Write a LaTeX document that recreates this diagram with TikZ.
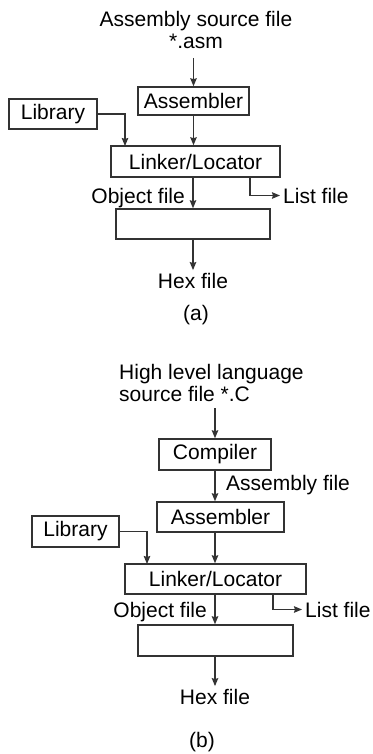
\documentclass[tikz,border=0pt]{standalone}
\usepackage{fontspec}
\setmainfont{Liberation Sans}
\usetikzlibrary{arrows,arrows.meta}

\begin{document}
\begin{tikzpicture}[
x=1pt, y=-1pt,
font=\fontsize{21}{22}\selectfont,
box/.style={draw=black!80, line width=1.5pt, inner sep=0pt},
lbl/.style={inner sep=3pt},
arrow/.style={-{Stealth[length=8pt,width=6.5pt,inset=1pt]},line width=1.3pt,draw=black!80} ]

\useasboundingbox (0,0) rectangle (372,754);

% (a)
\node[lbl, align=center, anchor=south, inner ysep=9pt](srca) at (196,58) {Assembly source file\\*.asm};

\node[box, minimum width=111pt, minimum height=28pt](asma) at (193.5,101) {Assembler};

\node[box, minimum width=88pt, minimum height=30pt](liba) at (53,114) {Library};

\node[box, minimum width=169pt, minimum height=31pt](lnka) at (195.5,161.5) {Linker/Locator};

\node[box, minimum width=154pt, minimum height=30pt](boxa) at (193,224) {};

\node[lbl](hexa) at (193,281) {Hex file};

\node[lbl, anchor=base east](obja) at (188,203) {Object file};

\node[lbl, anchor=base west](lista) at (280,203) {List file};

\node[lbl](capa) at (196,315) {(a)};

\coordinate (libina) at (125,146);
\coordinate (lsta) at (250,177);

\draw[arrow] (asma.north |- srca.south) -- (asma.north);

\draw[arrow] (asma.south) -- (asma.south |- lnka.north);

\draw[arrow] (liba.east) -| (libina);

\draw[arrow] (boxa.north |- lnka.south) -- (boxa.north);

\draw[arrow] (lsta) |- (lista.west);

\draw[arrow] (boxa.south) -- (hexa.north);

% (b)
\node[lbl, align=left, anchor=south west, inner xsep=0pt, inner ysep=6pt](srcb) at (119,408) {High level language\\source file *.C};

\node[box, minimum width=112pt, minimum height=31pt](cmpb) at (215,454.5) {Compiler};

\node[box, minimum width=127pt, minimum height=30pt](asmb) at (220.5,517) {Assembler};

\node[box, minimum width=87pt, minimum height=31pt](libb) at (75.5,531.5) {Library};

\node[box, minimum width=181pt, minimum height=30pt](lnkb) at (215.5,579) {Linker/Locator};

\node[box, minimum width=155pt, minimum height=31pt](boxb) at (215.5,640.5) {};

\node[lbl](hexb) at (215,697) {Hex file};

\node[lbl, anchor=base west](asfb) at (223,490) {Assembly file};

\node[lbl, anchor=base east](objb) at (210,617) {Object file};

\node[lbl, anchor=base west](listb) at (302,617) {List file};

\node[lbl](capb) at (202,742) {(b)};

\coordinate (libinb) at (147,564);
\coordinate (lstb) at (273,594);

\draw[arrow] (cmpb.north |- srcb.south) -- (cmpb.north);

\draw[arrow] (cmpb.south) -- (cmpb.south |- asmb.north);

\draw[arrow] (cmpb.south |- asmb.south) -- (cmpb.south |- lnkb.north);

\draw[arrow] (libb.east) -| (libinb);

\draw[arrow] (cmpb.south |- lnkb.south) -- (cmpb.south |- boxb.north);

\draw[arrow] (lstb) |- (listb.west);

\draw[arrow] (cmpb.south |- boxb.south) -- (hexb.north);
\end{tikzpicture}
\end{document}
